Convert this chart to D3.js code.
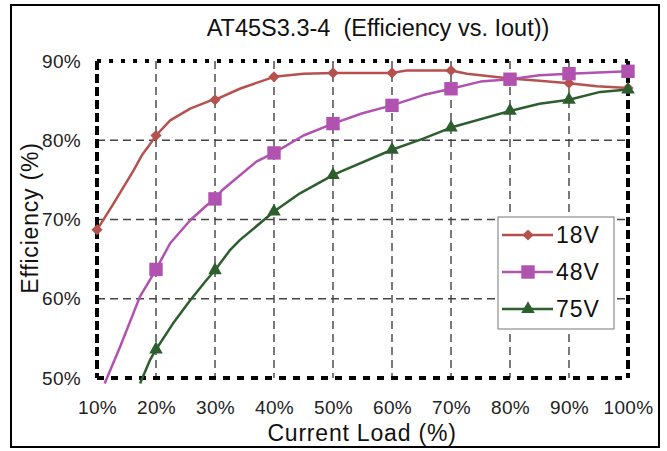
<!DOCTYPE html>
<html>
<head>
<meta charset="utf-8">
<script src="https://cdn.jsdelivr.net/npm/d3@7/dist/d3.min.js"></script>
<style>
html,body{margin:0;padding:0;background:#fff;}
svg{display:block;font-family:"Liberation Sans",Arial,sans-serif;}
</style>
</head>
<body>
<svg id="chart" width="667" height="451"></svg>
<script>
// ---- data ----
const title = "AT45S3.3-4  (Efficiency vs. Iout))";
const xTicks = [10,20,30,40,50,60,70,80,90,100];
const yTicks = [50,60,70,80,90];
const seriesNames = ["18V","48V","75V"];
const seriesColors = ["#b5524f","#b152b1","#2d5e2d"];
// marker positions (every 10% load)
const markerLoads = [10,20,30,40,50,60,70,80,90,100];
const v18Markers = [68.7,80.6,85.1,88.0,88.5,88.5,88.8,87.8,87.2,86.6];
const v48Markers = [null,63.7,72.6,78.4,82.1,84.4,86.5,87.7,88.4,88.7];
const v75Markers = [null,53.6,63.6,71.0,75.6,78.8,81.6,83.7,85.1,86.4];
// curve traces (load %, efficiency %)
const v18Curve = [[10,68.7],[12.8,72.0],[16.2,76.2],[17.6,78.1],[18.7,79.2],[20,80.6],[22.4,82.5],[25.8,84.0],[29.2,85.0],[30,85.1],[34.2,86.5],[40,88.0],[45,88.4],[50,88.5],[55,88.5],[60,88.5],[62.5,88.8],[70,88.8],[72.7,88.4],[80,87.8],[85,87.5],[90,87.2],[94.7,86.8],[100,86.6]];
const v48Curve = [[11.3,49.3],[13.9,53.9],[17.3,60.3],[19.3,62.8],[20,63.7],[22.4,67.0],[25.8,69.9],[28.6,71.8],[30,72.6],[31.2,73.7],[37,77.3],[40,78.4],[45,80.6],[50,82.1],[55,83.4],[60,84.4],[65.3,85.7],[70,86.5],[75,87.4],[80,87.7],[85,88.2],[90,88.4],[100,88.7]];
const v75Curve = [[17.3,49.3],[19,52.3],[20,53.6],[22.9,56.9],[25.8,59.8],[28.6,62.4],[30,63.6],[32.5,66.1],[34.2,67.4],[40,71.0],[44.4,73.3],[50,75.6],[51.2,76.0],[60,78.8],[65.3,80.2],[70,81.6],[80,83.7],[85,84.6],[90,85.1],[95.3,86.1],[100,86.4]];

// ---- layout ----
const svg = d3.select("#chart");
const L = 97, R = 628, T = 61, B = 378;
const x = d3.scaleLinear().domain([10,100]).range([L,R]);
const y = d3.scaleLinear().domain([50,90]).range([B,T]);

// outer frame
svg.append("rect").attr("x",11).attr("y",5).attr("width",648).attr("height",442)
  .attr("fill","#fff").attr("stroke","#000").attr("stroke-width",2);

// title
svg.append("text").attr("x",378).attr("y",36).attr("text-anchor","middle")
  .style("white-space","pre").attr("xml:space","preserve")
  .attr("font-size",23.5).attr("fill","#111").text(title);

// gridlines
const grid = svg.append("g");
grid.selectAll("line.gx").data(xTicks.slice(1,-1)).join("line")
  .attr("x1",d=>x(d)).attr("x2",d=>x(d)).attr("y1",T).attr("y2",B)
  .attr("stroke","#333").attr("stroke-width",1.3).attr("stroke-dasharray","8,5");
grid.selectAll("line.gy").data(yTicks.slice(1,-1)).join("line")
  .attr("x1",L).attr("x2",R).attr("y1",d=>y(d)).attr("y2",d=>y(d))
  .attr("stroke","#444").attr("stroke-width",1.3).attr("stroke-dasharray","8,5");

// axes (labels only)
const xAxis = svg.append("g").attr("transform",`translate(0,${B})`)
  .call(d3.axisBottom(x).tickValues(xTicks).tickSize(0).tickPadding(23).tickFormat(d=>d+"%"));
const yAxis = svg.append("g").attr("transform",`translate(${L},0)`)
  .call(d3.axisLeft(y).tickValues(yTicks).tickSize(0).tickPadding(16).tickFormat(d=>d+"%"));
[xAxis,yAxis].forEach(a=>{
  a.select(".domain").remove();
  a.selectAll("text").attr("font-size",19).attr("fill","#222").attr("letter-spacing",0.3)
   .attr("font-family","'Liberation Sans',Arial,sans-serif");
});

// axis titles
svg.append("text").attr("x",362).attr("y",441).attr("text-anchor","middle")
  .attr("font-size",23).attr("fill","#111").attr("letter-spacing",0.8).text("Current Load (%)");
svg.append("text").attr("transform","translate(38,218) rotate(-90)").attr("text-anchor","middle")
  .attr("font-size",23).attr("fill","#111").attr("letter-spacing",0.8).text("Efficiency (%)");

// plot borders
const bw = 4;
svg.append("line").attr("x1",L).attr("x2",R).attr("y1",T).attr("y2",T)
  .attr("stroke","#000").attr("stroke-width",bw).attr("stroke-dasharray","4,8");
svg.append("line").attr("x1",L).attr("x2",L).attr("y1",T).attr("y2",B)
  .attr("stroke","#000").attr("stroke-width",bw).attr("stroke-dasharray","9,4");
svg.append("line").attr("x1",L).attr("x2",R).attr("y1",B).attr("y2",B)
  .attr("stroke","#000").attr("stroke-width",bw).attr("stroke-dasharray","7,7");
svg.append("line").attr("x1",R).attr("x2",R).attr("y1",T).attr("y2",B)
  .attr("stroke","#000").attr("stroke-width",bw).attr("stroke-dasharray","9,4");

// curves
const line = d3.line().x(d=>x(d[0])).y(d=>y(d[1]));
const curves = [v18Curve,v48Curve,v75Curve];
const markers = [v18Markers,v48Markers,v75Markers];

function markerPath(i){
  if(i===0) return d3.symbol().type(d3.symbolSquare).size(62)();
  if(i===1) return d3.symbol().type(d3.symbolSquare).size(180)();
  return d3.symbol().type(d3.symbolTriangle).size(80)();
}
const mrot = [45,0,0];

curves.forEach((c,i)=>{
  svg.append("path").datum(c).attr("d",line).attr("fill","none")
    .attr("stroke",seriesColors[i]).attr("stroke-width",2.5).attr("stroke-linejoin","round");
});
markers.forEach((m,i)=>{
  const pts = markerLoads.map((l,k)=>[l,m[k]]).filter(d=>d[1]!==null);
  svg.append("g").selectAll("path").data(pts).join("path")
    .attr("transform",d=>`translate(${x(d[0])},${y(d[1])}) rotate(${mrot[i]})`)
    .attr("d",markerPath(i)).attr("fill",seriesColors[i]);
});

// legend
const lg = svg.append("g");
lg.append("rect").attr("x",498).attr("y",217).attr("width",116).attr("height",112)
  .attr("fill","#fff").attr("stroke","#777").attr("stroke-width",1);
seriesNames.forEach((n,i)=>{
  const cy = 235 + i*37;
  lg.append("line").attr("x1",502).attr("x2",553).attr("y1",cy).attr("y2",cy)
    .attr("stroke",seriesColors[i]).attr("stroke-width",2.5);
  lg.append("path").attr("transform",`translate(528,${cy}) rotate(${mrot[i]})`).attr("d",markerPath(i)).attr("fill",seriesColors[i]);
  lg.append("text").attr("x",556).attr("y",cy+8).attr("font-size",23).attr("letter-spacing",1)
    .attr("fill","#111").text(n);
});
</script>
</body>
</html>
